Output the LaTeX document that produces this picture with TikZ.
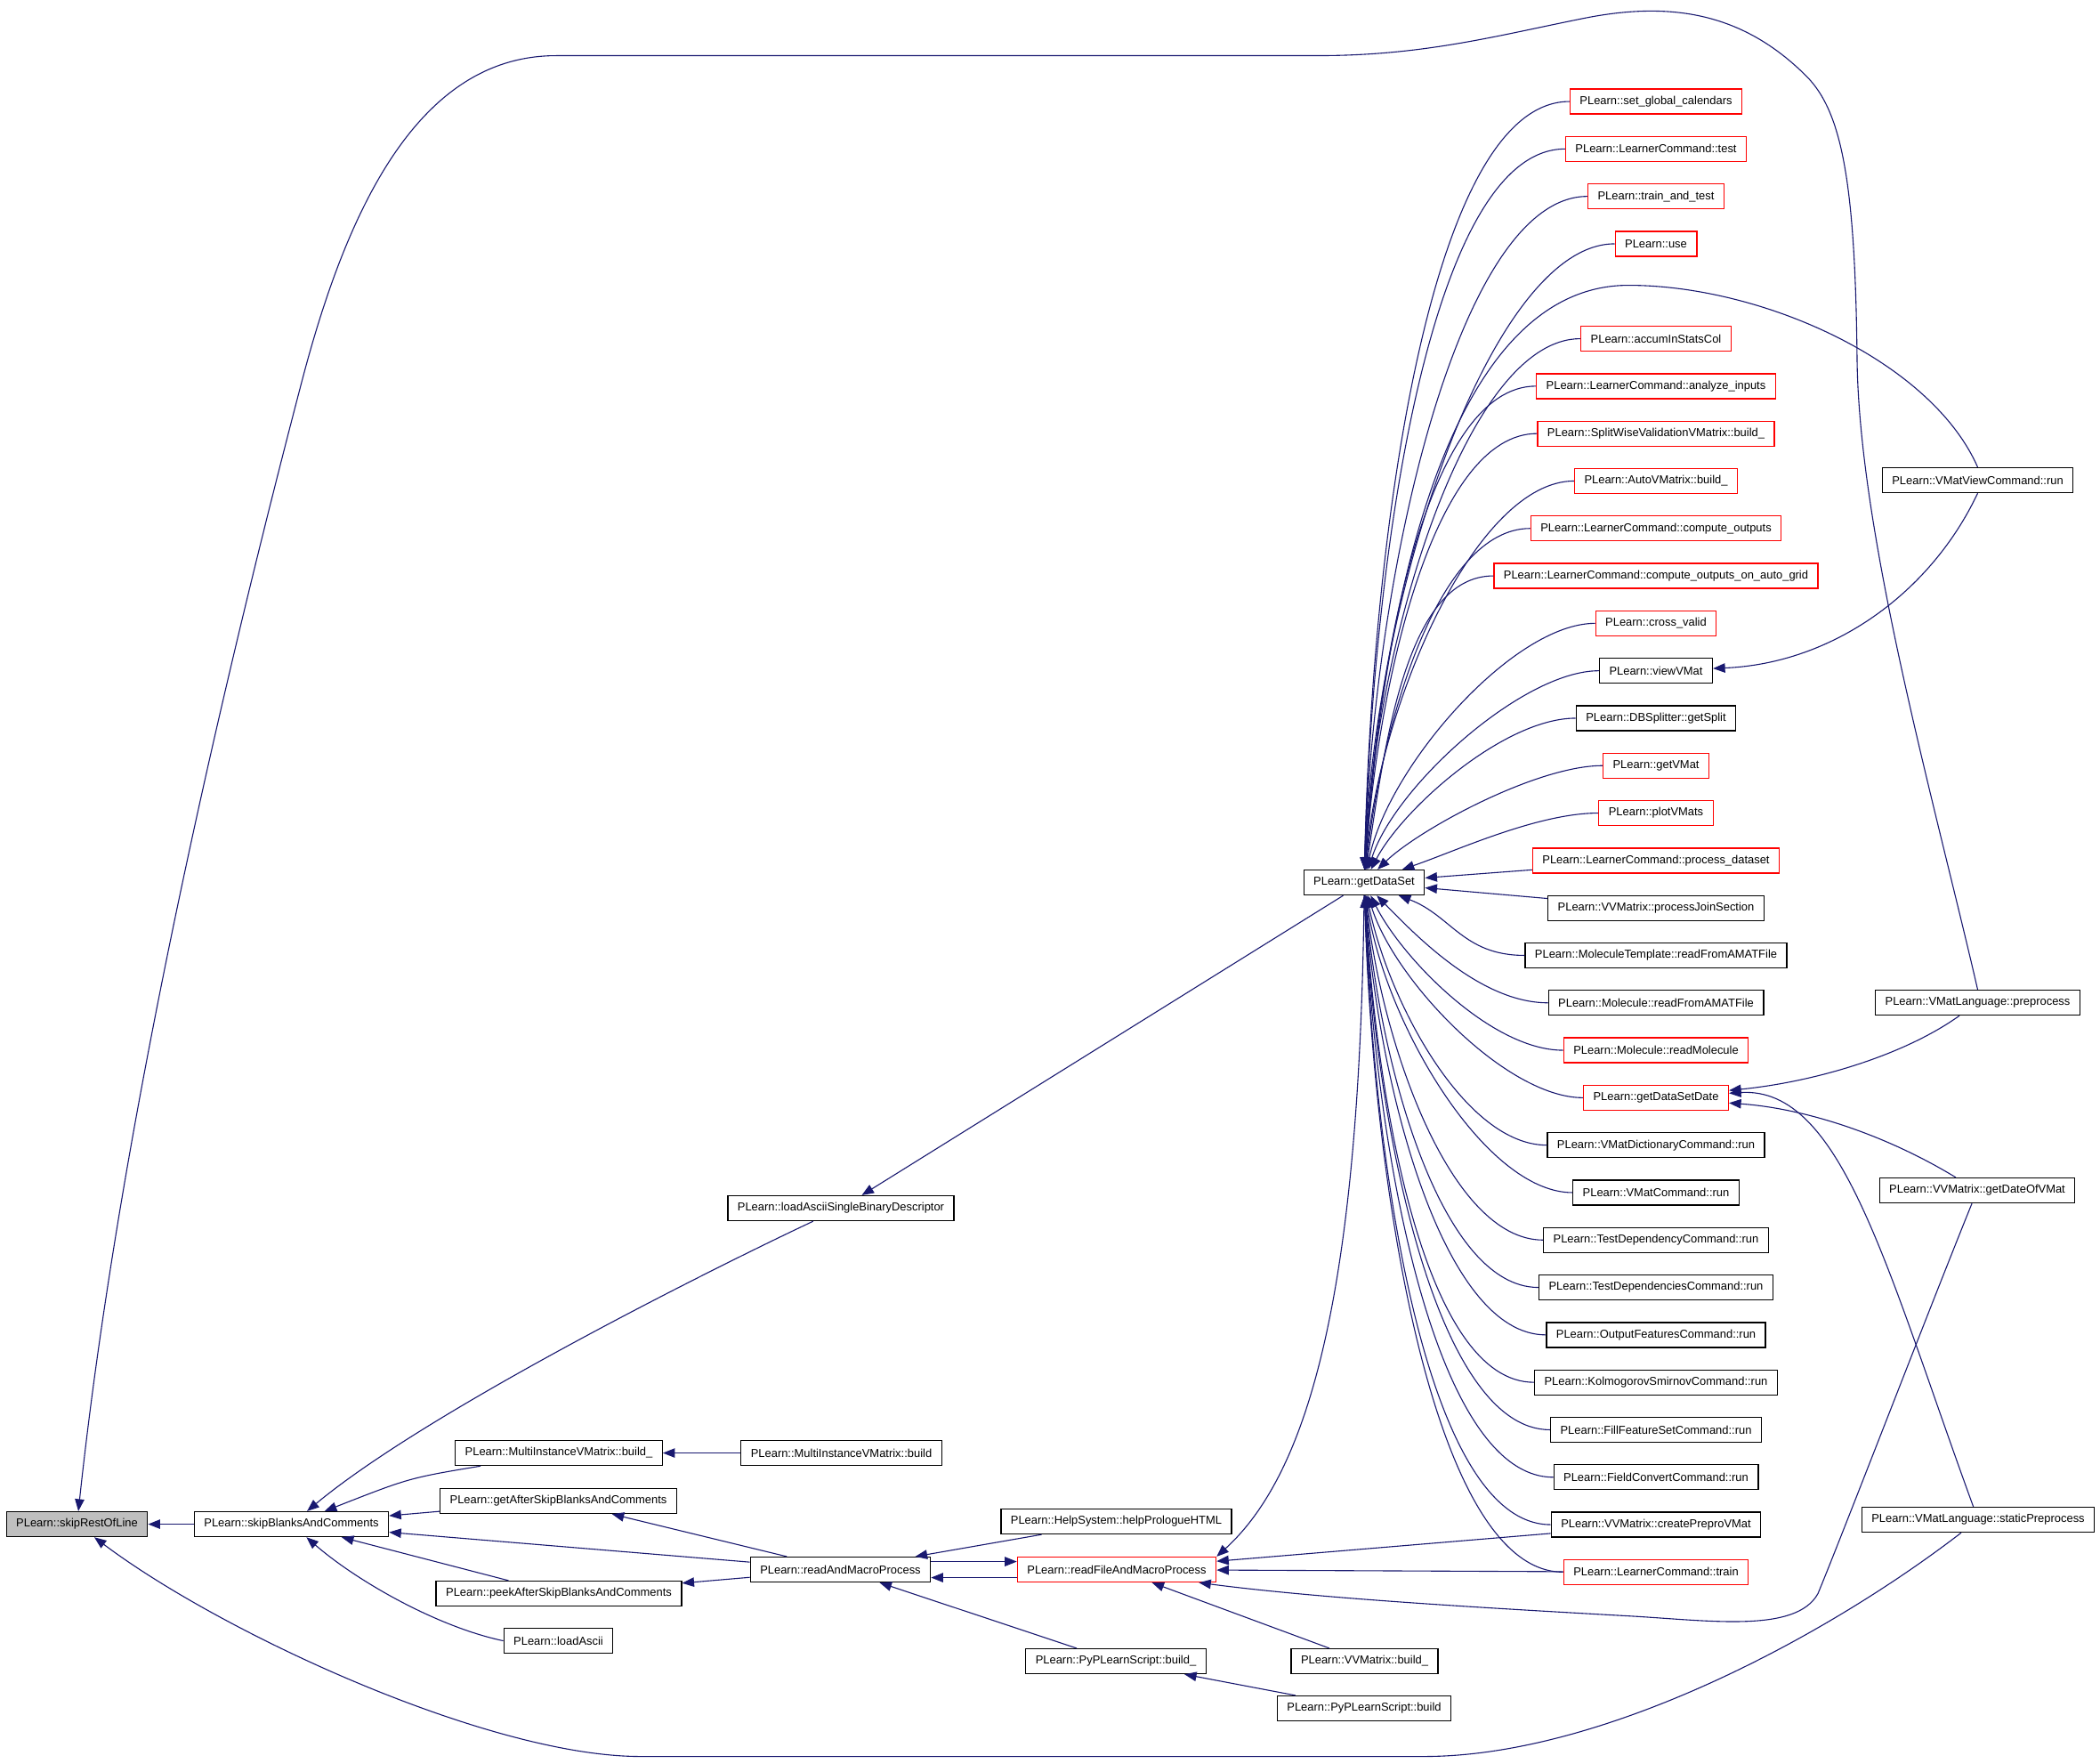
\documentclass[tikz,border=0pt]{standalone}
\usepackage{fontspec}
\setmainfont{Liberation Sans}
\usetikzlibrary{arrows.meta}
\definecolor{edgeblue}{HTML}{191970}
\definecolor{rootgrey}{HTML}{BFBFBF}
\tikzset{
    func/.style={draw=black, line width=0.026cm, inner xsep=0.22cm, inner ysep=0pt,
        minimum height=0.56cm, font=\fontsize{7.36pt}{8.8pt}\selectfont},
    funcred/.style={func, draw=red},
    call/.style={draw=edgeblue, line width=0.022cm, -{Triangle[length=0.27cm, width=0.21cm]}}
}
\begin{document}
\begin{tikzpicture}[x=0.02cm, y=-0.02cm]
    \fill[white] (0,0) rectangle (2360,1976);

    \node[func, fill=rootgrey] (srl) at (86.5,1707) {PLearn::skipRestOfLine};
    \node[func] (sbc) at (327.5,1707) {PLearn::skipBlanksAndComments};
    \node[func] (mivbu) at (628,1627) {PLearn::MultiInstanceVMatrix::build\_};
    \node[func] (gas) at (627.5,1681) {PLearn::getAfterSkipBlanksAndComments};
    \node[func] (peek) at (628,1785) {PLearn::peekAfterSkipBlanksAndComments};
    \node[func] (la) at (627.5,1838) {PLearn::loadAscii};
    \node[func] (lasbd) at (945,1352) {PLearn::loadAsciiSingleBinaryDescriptor};
    \node[func] (mivb) at (945.5,1627) {PLearn::MultiInstanceVMatrix::build};
    \node[func] (ramp) at (944.5,1758) {PLearn::readAndMacroProcess};
    \node[func] (hsp) at (1254.5,1704) {PLearn::HelpSystem::helpPrologueHTML};
    \node[funcred] (rfm) at (1255,1758) {PLearn::readFileAndMacroProcess};
    \node[func] (pybu) at (1254,1861) {PLearn::PyPLearnScript::build\_};
    \node[func] (vvbu) at (1533.5,1861) {PLearn::VVMatrix::build\_};
    \node[func] (pyb) at (1533,1914) {PLearn::PyPLearnScript::build};
    \node[func] (gds) at (1533,986) {PLearn::getDataSet};

    \node[funcred] (sgc) at (1861,108.5) {PLearn::set\_global\_calendars};
    \node[funcred] (lctest) at (1861,161.8) {PLearn::LearnerCommand::test};
    \node[funcred] (tat) at (1861,215.1) {PLearn::train\_and\_test};
    \node[funcred] (use) at (1861,268.4) {PLearn::use};
    \node[funcred] (ais) at (1861,375) {PLearn::accumInStatsCol};
    \node[funcred] (lcai) at (1861,428.3) {PLearn::LearnerCommand::analyze\_inputs};
    \node[funcred] (swv) at (1861,481.6) {PLearn::SplitWiseValidationVMatrix::build\_};
    \node[funcred] (avm) at (1861,534.9) {PLearn::AutoVMatrix::build\_};
    \node[funcred] (lcco) at (1861,588.2) {PLearn::LearnerCommand::compute\_outputs};
    \node[funcred] (lcag) at (1861,641.5) {PLearn::LearnerCommand::compute\_outputs\_on\_auto\_grid};
    \node[funcred] (cv) at (1861,694.8) {PLearn::cross\_valid};
    \node[func] (vvm) at (1861,748.1) {PLearn::viewVMat};
    \node[func] (dbs) at (1861,801.4) {PLearn::DBSplitter::getSplit};
    \node[funcred] (gvm) at (1861,854.7) {PLearn::getVMat};
    \node[funcred] (pvm) at (1861,908) {PLearn::plotVMats};
    \node[funcred] (lcpd) at (1861,961.3) {PLearn::LearnerCommand::process\_dataset};
    \node[func] (pjs) at (1861,1014.6) {PLearn::VVMatrix::processJoinSection};
    \node[func] (mtr) at (1861,1067.9) {PLearn::MoleculeTemplate::readFromAMATFile};
    \node[func] (mra) at (1861,1121.2) {PLearn::Molecule::readFromAMATFile};
    \node[funcred] (mrm) at (1861,1174.5) {PLearn::Molecule::readMolecule};
    \node[funcred] (gdd) at (1861,1227.8) {PLearn::getDataSetDate};
    \node[func] (vdc) at (1861,1281.1) {PLearn::VMatDictionaryCommand::run};
    \node[func] (vmc) at (1861,1334.4) {PLearn::VMatCommand::run};
    \node[func] (tdc) at (1861,1387.7) {PLearn::TestDependencyCommand::run};
    \node[func] (tdsc) at (1861,1441) {PLearn::TestDependenciesCommand::run};
    \node[func] (ofc) at (1861,1494.3) {PLearn::OutputFeaturesCommand::run};
    \node[func] (ksc) at (1861,1547.6) {PLearn::KolmogorovSmirnovCommand::run};
    \node[func] (ffc) at (1861,1600.9) {PLearn::FillFeatureSetCommand::run};
    \node[func] (fcc) at (1861,1654.2) {PLearn::FieldConvertCommand::run};
    \node[func] (cpv) at (1861,1707.5) {PLearn::VVMatrix::createPreproVMat};
    \node[funcred] (lctr) at (1861,1760.8) {PLearn::LearnerCommand::train};

    \node[func] (vvc) at (2222.5,534) {PLearn::VMatViewCommand::run};
    \node[func] (pre) at (2222.5,1121) {PLearn::VMatLanguage::preprocess};
    \node[func] (gdv) at (2222,1332) {PLearn::VVMatrix::getDateOfVMat};
    \node[func] (sp) at (2223,1702) {PLearn::VMatLanguage::staticPreprocess};

    \draw[call] (sbc) -- (srl);
    \draw[call] (pre.north) .. controls (2175,900) and (2090,600) .. (2087,400)
        .. controls (2085,200) and (2070,120) .. (2030,80)
        .. controls (1960,10) and (1880,-5) .. (1780,15)
        .. controls (1680,35) and (1600,57) .. (1480,57) -- (625,57)
        .. controls (470,57) and (390,230) .. (340,420)
        .. controls (230,840) and (130,1300) .. (srl);
    \draw[call] (sp) .. controls (2050,1835) and (1800,1968) .. (1600,1968) -- (720,1968)
        .. controls (550,1968) and (250,1830) .. (srl);

    \draw[call] (mivbu) .. controls (460,1655) .. (sbc);
    \draw[call] (lasbd) .. controls (800,1420) and (480,1580) .. (sbc);
    \draw[call] (gas) -- (sbc);
    \draw[call] (ramp) -- (sbc);
    \draw[call] (peek) -- (sbc);
    \draw[call] (la.west) .. controls (490,1822) and (400,1770) .. (sbc);
    \draw[call] (mivb) -- (mivbu);
    \draw[call] (ramp) -- (gas);
    \draw[call] (ramp) -- (peek);
    \draw[call] (hsp) -- (ramp);
    \draw[call] ([yshift=0.18cm]ramp.east) -- ([yshift=0.18cm]rfm.west);
    \draw[call] ([yshift=-0.18cm]rfm.west) -- ([yshift=-0.18cm]ramp.east);
    \draw[call] (pybu) -- (ramp);
    \draw[call] (pyb) -- (pybu);
    \draw[call] (vvbu) -- (rfm);
    \draw[call] (cpv) -- (rfm);
    \draw[call] (lctr) -- (rfm);
    \draw[call] (gdv) .. controls (2170,1460) and (2070,1720) .. (2043,1785)
        .. controls (2018,1830) and (1920,1815) .. (1828,1810)
        .. controls (1650,1800) and (1480,1790) .. ([xshift=-0.4cm]rfm.south east);
    \draw[call] (gds.south) .. controls (1528,1450) and (1470,1650) .. (rfm.north east);
    \draw[call] (gds) -- (lasbd);

    \draw[call] (vvc.north) .. controls (2170,400) and (1980,315) .. (1830,315)
        .. controls (1650,315) and (1560,600) .. (gds);
    \draw[call] (vvc.south) .. controls (2170,660) and (2060,740) .. (vvm);
    \draw[call] (pre) .. controls (2140,1180) and (2040,1210) .. (gdd);
    \draw[call] (gdv) .. controls (2120,1270) and (2030,1240) .. (gdd);
    \draw[call] (sp) .. controls (2120,1420) and (2070,1215) .. (gdd);

    \draw[call] (lcpd) -- (gds);
    \draw[call] (pjs) -- (gds);
    \foreach \nd/\rw in {sgc/0, lctest/1, tat/2, use/3, ais/5, lcai/6, swv/7, avm/8,
        lcco/9, lcag/10, cv/11, vvm/12, dbs/13, gvm/14, pvm/15} {
        \pgfmathsetmacro\dist{877.5-53.3*\rw}
        \draw[call] (\nd.west) .. controls +({-(60+0.11*\dist)},0) and +({8000/\dist},{-0.45*\dist}) .. (gds);
    }
    \foreach \nd/\rw in {mtr/18, mra/19, mrm/20, gdd/21, vdc/22, vmc/23, tdc/24, tdsc/25,
        ofc/26, ksc/27, ffc/28, fcc/29, cpv/30, lctr/31} {
        \pgfmathsetmacro\dist{53.3*\rw-877.5}
        \draw[call] (\nd.west) .. controls +({-(60+0.11*\dist)},0) and +({8000/\dist},{0.45*\dist}) .. (gds);
    }
\end{tikzpicture}
\end{document}
